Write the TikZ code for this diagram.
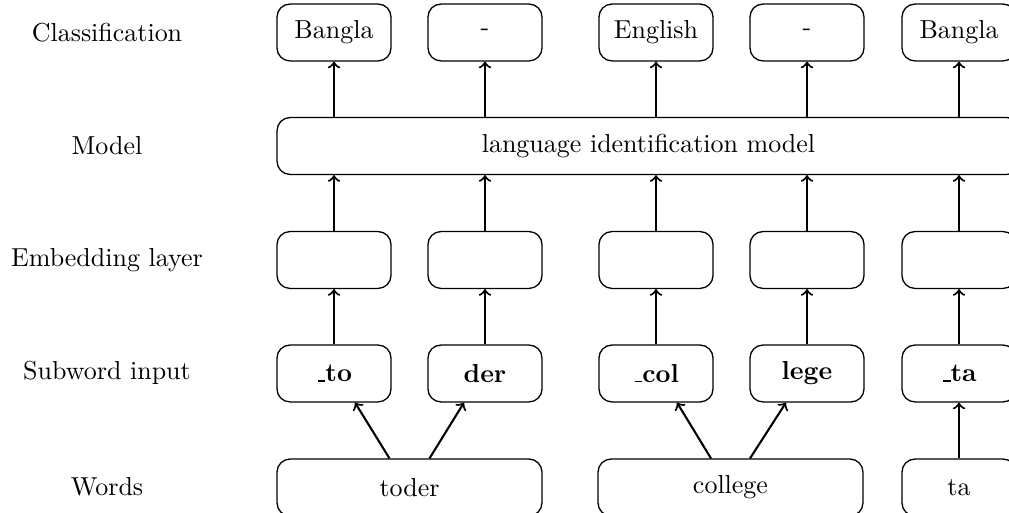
\documentclass[tikz,border=0pt]{standalone}
\usetikzlibrary{calc}
\newcommand{\lowbar}{\leavevmode\kern.06em\vbox{\hrule width.3em height 0.55pt}}
\begin{document}
\begin{tikzpicture}[x=0.385pt,y=-0.385pt,
  box/.style={draw,line width=0.5pt,rounded corners=5pt,minimum width=43.9pt,minimum height=21.9pt,inner sep=0pt},
  wordbox/.style={box,minimum width=102pt},
  modelbox/.style={box,minimum width=286pt},
  rowlabel/.style={inner sep=0pt},
  arr/.style={->,thick}]
\clip (0,0) rectangle (1009,513);
% row labels
\node[rowlabel] (lc) at (107,33) {Classification};
\node[rowlabel] (lm) at (107,146) {Model};
\node[rowlabel] (le) at (107,260) {Embedding layer};
\node[rowlabel] (ls) at (107,373) {Subword input};
\node[rowlabel] (lw) at (107,487) {Words};
% classification
\node[box] (c1) at (334,32.5) {Bangla};
\node[box] (c2) at (485,32.5) {-};
\node[box] (c3) at (656,32.5) {English};
\node[box] (c4) at (807,32.5) {-};
\node[box] (c5) at (959,32.5) {Bangla};
% model
\node[modelbox] (m) at (648.5,146) {language identification model};
% embedding
\node[box] (e1) at (334,260) {};
\node[box] (e2) at (485,260) {};
\node[box] (e3) at (656,260) {};
\node[box] (e4) at (807,260) {};
\node[box] (e5) at (959,260) {};
% subwords
\node[box] (s1) at (334,373.5) {\textbf{\lowbar to}};
\node[box] (s2) at (485,373.5) {\textbf{der}};
\node[box] (s3) at (656,373.5) {\textbf{\lowbar col}};
\node[box] (s4) at (807,373.5) {\textbf{lege}};
\node[box] (s5) at (959,373.5) {\textbf{\lowbar ta}};
% words
\node[wordbox] (w1) at (409.5,487.5) {toder};
\node[wordbox] (w2) at (730.5,487.5) {college};
\node[box] (w3) at (959,487.5) {ta};
% arrows
\foreach \i in {1,...,5}{
  \draw[arr] (s\i.north) -- (e\i.south);
  \draw[arr] (e\i.north) -- (e\i.north |- m.south);
  \draw[arr] (e\i.north |- m.north) -- (c\i.south);
}
\draw[arr] ($(w1.north)+(-20,0)$) -- ($(s1.south)+(21,0)$);
\draw[arr] ($(w1.north)+(20,0)$) -- ($(s2.south)+(-21,0)$);
\draw[arr] ($(w2.north)+(-19.5,0)$) -- ($(s3.south)+(21,0)$);
\draw[arr] ($(w2.north)+(19.5,0)$) -- ($(s4.south)+(-21,0)$);
\draw[arr] (w3.north) -- (s5.south);
\end{tikzpicture}
\end{document}
